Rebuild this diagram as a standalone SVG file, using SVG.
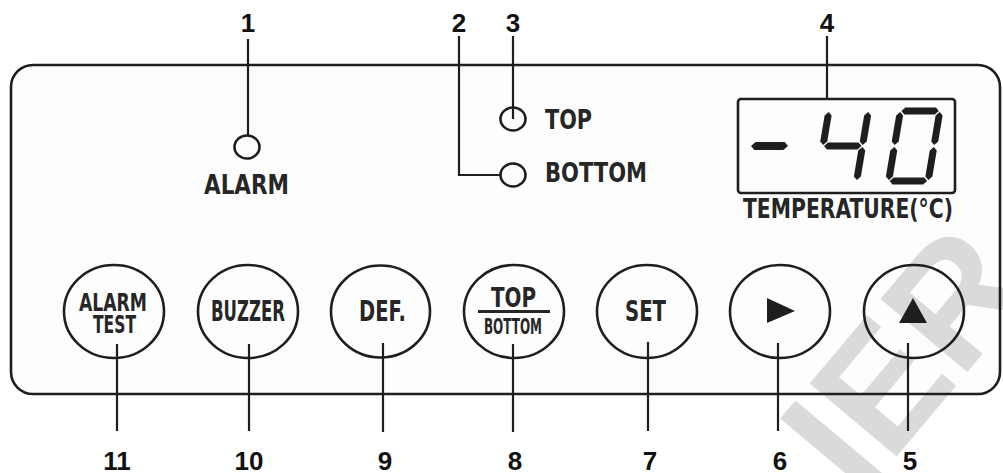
<svg xmlns="http://www.w3.org/2000/svg" width="1003" height="473" viewBox="0 0 1003 473">
<style>
.ln{fill:none;stroke:#1e1e1e;stroke-width:2.2}
.sh{fill:none;stroke:#1e1e1e;stroke-width:2.6}
.lbl{font-family:"Liberation Sans Narrow","DejaVu Sans Condensed","Liberation Sans",sans-serif;font-weight:bold;fill:#262626}
.num{font-family:"Liberation Sans",Arial,sans-serif;font-weight:bold;font-size:26px;fill:#111;text-anchor:middle}
.seg{fill:#1e1e1e}
.wm{font-family:"Liberation Sans",Arial,sans-serif;font-weight:bold;font-size:165px;fill:#dadada}
</style>
<rect width="1003" height="473" fill="#ffffff"/>
<g id="panel">
<rect x="11" y="65" width="989" height="329" rx="22" fill="#fdfdfd"/>
</g>
<g id="watermark">
<text class="wm" transform="translate(860,500) rotate(-50)">IER</text>
</g>
<g id="panel-border">
<rect class="sh" x="11" y="65" width="989" height="329" rx="22"/>
</g>
<g id="connectors">
<polyline class="ln" points="248,39 248,135"/>
<polyline class="ln" points="459,36 459,175 501,175"/>
<polyline class="ln" points="513,36 513,119"/>
<polyline class="ln" points="827,36 827,98"/>
<polyline class="ln" points="117,344 117,431"/>
<polyline class="ln" points="249,344 249,431"/>
<polyline class="ln" points="383,343 383,432"/>
<polyline class="ln" points="513,344 513,432"/>
<polyline class="ln" points="648,342 648,431"/>
<polyline class="ln" points="778,343 778,431"/>
<polyline class="ln" points="908,343 908,431"/>
</g>
<g id="led-alarm">
<ellipse class="sh" cx="247" cy="147" rx="12.5" ry="11.5"/>
<text class="lbl" x="204" y="194" font-size="27" textLength="85" lengthAdjust="spacingAndGlyphs">ALARM</text>
</g>
<g id="led-top">
<ellipse class="sh" cx="513" cy="119" rx="12.5" ry="11.5"/>
<text class="lbl" x="545" y="129" font-size="27" textLength="47" lengthAdjust="spacingAndGlyphs">TOP</text>
</g>
<g id="led-bottom">
<ellipse class="sh" cx="513" cy="175" rx="12.5" ry="11.5"/>
<text class="lbl" x="545" y="182" font-size="27" textLength="102" lengthAdjust="spacingAndGlyphs">BOTTOM</text>
</g>
<g id="display">
<rect class="sh" x="738" y="99" width="217" height="94" rx="3"/>
<g transform="translate(0,146) skewX(-9.5) translate(0,-146)">
<polygon class="seg" points="751,146 755,142 784,142 788,146 784,150 755,150"/>
<polygon class="seg" points="823,112 826.5,115.5 826.5,141.5 823,145 819.5,141.5 819.5,115.5"/>
<polygon class="seg" points="862.5,112 866,115.5 866,141.5 862.5,145 859,141.5 859,115.5"/>
<polygon class="seg" points="862.5,147 866,150.5 866,176.5 862.5,180 859,176.5 859,150.5"/>
<polygon class="seg" points="824,146 827.5,142.5 858,142.5 861.5,146 858,149.5 827.5,149.5"/>
<polygon class="seg" points="895.5,111 899,107.5 929.5,107.5 933,111 929.5,114.5 899,114.5"/>
<polygon class="seg" points="895.5,181 899,177.5 929.5,177.5 933,181 929.5,184.5 899,184.5"/>
<polygon class="seg" points="894.5,112 898,115.5 898,141.5 894.5,145 891,141.5 891,115.5"/>
<polygon class="seg" points="894.5,147 898,150.5 898,176.5 894.5,180 891,176.5 891,150.5"/>
<polygon class="seg" points="934,112 937.5,115.5 937.5,141.5 934,145 930.5,141.5 930.5,115.5"/>
<polygon class="seg" points="934,147 937.5,150.5 937.5,176.5 934,180 930.5,176.5 930.5,150.5"/>
</g>
<text class="lbl" x="743" y="218" font-size="27" textLength="210" lengthAdjust="spacingAndGlyphs">TEMPERATURE(°C)</text>
</g>
<g id="btn-alarm-test">
<ellipse class="sh" cx="114" cy="311.5" rx="50" ry="46.5"/>
<text class="lbl" x="79" y="311" font-size="25" textLength="68" lengthAdjust="spacingAndGlyphs">ALARM</text>
<text class="lbl" x="93" y="333" font-size="25" textLength="43" lengthAdjust="spacingAndGlyphs">TEST</text>
</g>
<g id="btn-buzzer">
<ellipse class="sh" cx="248" cy="311.5" rx="50" ry="46.5"/>
<text class="lbl" x="211" y="321" font-size="28" textLength="74" lengthAdjust="spacingAndGlyphs">BUZZER</text>
</g>
<g id="btn-def">
<ellipse class="sh" cx="380.5" cy="311.5" rx="49.5" ry="46"/>
<text class="lbl" x="359" y="321" font-size="28" textLength="47" lengthAdjust="spacingAndGlyphs">DEF.</text>
</g>
<g id="btn-top-bottom">
<ellipse class="sh" cx="514" cy="311.5" rx="50" ry="46.5"/>
<text class="lbl" x="491" y="307" font-size="27" textLength="45" lengthAdjust="spacingAndGlyphs">TOP</text>
<line x1="478" y1="311.5" x2="550" y2="311.5" stroke="#262626" stroke-width="3"/>
<text class="lbl" x="484" y="334" font-size="21" textLength="58" lengthAdjust="spacingAndGlyphs">BOTTOM</text>
</g>
<g id="btn-set">
<ellipse class="sh" cx="647" cy="311.5" rx="50" ry="46.5"/>
<text class="lbl" x="625" y="321" font-size="28" textLength="41" lengthAdjust="spacingAndGlyphs">SET</text>
</g>
<g id="btn-right">
<ellipse class="sh" cx="780" cy="311.5" rx="50" ry="46.5"/>
<polygon fill="#1e1e1e" points="767,298 767,323 795,311"/>
</g>
<g id="btn-up">
<ellipse class="sh" cx="914" cy="311.5" rx="50" ry="46.5"/>
<polygon fill="#1e1e1e" points="899,323 927,323 913,298"/>
</g>
<g id="labels">
<text class="num" x="248" y="32">1</text>
<text class="num" x="459" y="32">2</text>
<text class="num" x="513" y="32">3</text>
<text class="num" x="827" y="32">4</text>
<text class="num" x="910" y="470">5</text>
<text class="num" x="780" y="470">6</text>
<text class="num" x="650" y="470">7</text>
<text class="num" x="515" y="470">8</text>
<text class="num" x="385" y="470">9</text>
<text class="num" x="249" y="470">10</text>
<text class="num" x="117" y="470">11</text>
</g>
</svg>
